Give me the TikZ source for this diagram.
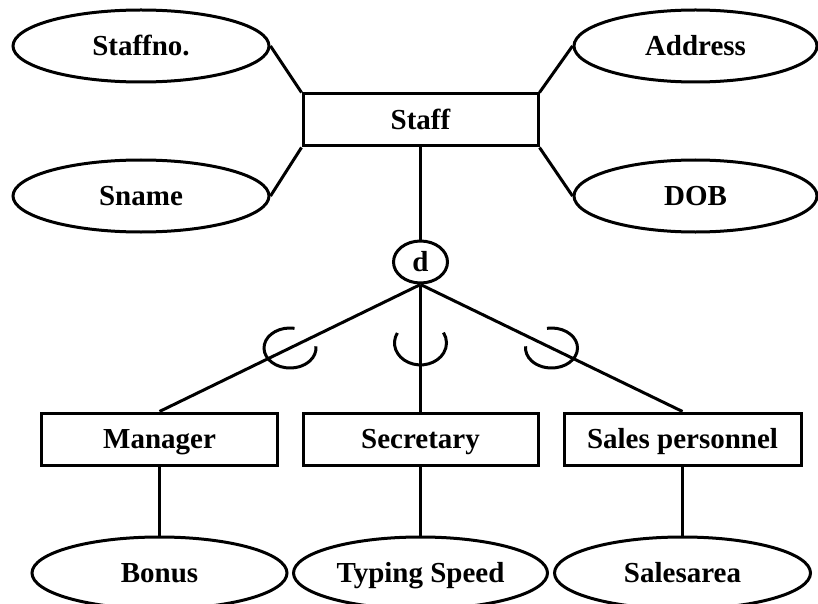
\documentclass[tikz,border=0pt]{standalone}
\usepackage{fontspec}
\setmainfont{Liberation Serif}
\usetikzlibrary{shapes.geometric}
\begin{document}
\begin{tikzpicture}[x=1pt,y=1pt,
  every node/.style={font=\fontsize{29}{32}\selectfont\bfseries, inner sep=0pt, text height=19pt, text depth=0pt},
  attr/.style={ellipse, draw, line width=3pt, minimum width=256pt, minimum height=72pt},
  entity/.style={rectangle, draw, line width=3pt, minimum width=235pt, minimum height=52pt},
  disj/.style={ellipse, draw, line width=3pt, minimum width=54pt, minimum height=42pt},
  link/.style={line width=3pt}]
\useasboundingbox (0,0) rectangle (818,-604);
\clip (0,0) rectangle (818,-604);
% attributes of Staff
\node[attr] (staffno) at (141,-46) {Staffno.};
\node[attr] (sname) at (141,-196) {Sname};
\node[attr, minimum width=243pt] (address) at (695.5,-46) {Address};
\node[attr, minimum width=243pt] (dob) at (695.5,-196) {DOB};
% entities
\node[entity] (staff) at (420.5,-120) {Staff};
\node[disj] (d) at (420.5,-262) {d};
\node[entity, minimum width=236pt] (manager) at (159.5,-439) {Manager};
\node[entity] (secretary) at (420.5,-439) {Secretary};
\node[entity, minimum width=237pt] (sales) at (682.5,-439) {Sales personnel};
% subclass attributes
\node[attr, minimum width=255pt] (bonus) at (159.5,-573) {Bonus};
\node[attr, minimum width=254pt] (typing) at (420.5,-573) {Typing Speed};
\node[attr] (salesarea) at (682.5,-573) {Salesarea};
% connectors
\draw[link] (staffno.east) -- (staff.north west);
\draw[link] (sname.east) -- (staff.south west);
\draw[link] (address.west) -- (staff.north east);
\draw[link] (dob.west) -- (staff.south east);
\draw[link] (staff.south) -- (d.north);
\draw[link] (d.south) -- coordinate[pos=0.5] (c1) (manager.north);
\draw[link] (d.south) -- coordinate[pos=0.46] (c2) (secretary.north);
\draw[link] (d.south) -- coordinate[pos=0.5] (c3) (sales.north);
\draw[link] (manager.south) -- (bonus.north);
\draw[link] (secretary.south) -- (typing.north);
\draw[link] (sales.south) -- (salesarea.north);
% subset symbols
\draw[link] (c1) ++(80:26pt and 20pt) arc[start angle=80, end angle=365, x radius=26pt, y radius=20pt];
\draw[link] (c2) ++(153:26pt and 22pt) arc[start angle=153, end angle=388, x radius=26pt, y radius=22pt];
\draw[link] (c3) ++(100:26pt and 20pt) arc[start angle=100, end angle=-185, x radius=26pt, y radius=20pt];
\end{tikzpicture}
\end{document}
